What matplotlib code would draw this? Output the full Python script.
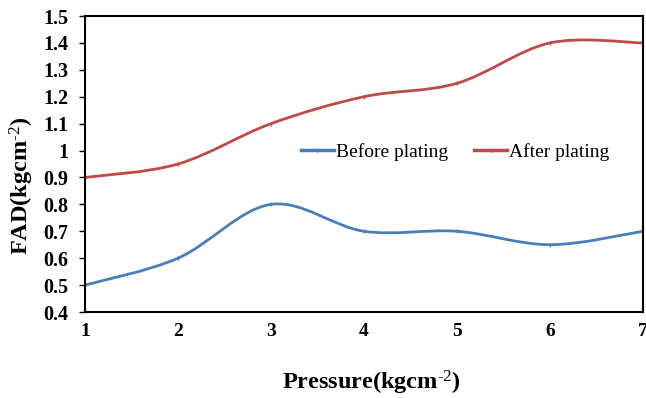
import numpy as np
import matplotlib
matplotlib.use("Agg")
import matplotlib.pyplot as plt
from matplotlib.path import Path
from matplotlib.patches import PathPatch

plt.rcParams['font.family'] = ['Liberation Serif', 'DejaVu Serif']
plt.rcParams['mathtext.fontset'] = 'custom'
plt.rcParams['mathtext.rm'] = 'Liberation Serif'
plt.rcParams['mathtext.bf'] = 'Liberation Serif:bold'
plt.rcParams['mathtext.default'] = 'rm'

pressure = [1, 2, 3, 4, 5, 6, 7]
before_plating = [0.5, 0.6, 0.8, 0.7, 0.7, 0.65, 0.7]
after_plating = [0.9, 0.95, 1.1, 1.2, 1.25, 1.4, 1.4]
series_names = ["Before plating", "After plating"]
colors = ["#4A7EBB", "#BE4B48"]
yticks = [0.4, 0.5, 0.6, 0.7, 0.8, 0.9, 1.0, 1.1, 1.2, 1.3, 1.4, 1.5]
ytick_labels = ["0.4", "0.5", "0.6", "0.7", "0.8", "0.9", "1", "1.1", "1.2", "1.3", "1.4", "1.5"]


def smooth_path(x, y):
    pts = np.column_stack([x, y]).astype(float)
    n = len(pts)
    verts = [pts[0]]
    codes = [Path.MOVETO]
    for i in range(n - 1):
        p0 = pts[i - 1] if i > 0 else pts[i]
        p1 = pts[i]
        p2 = pts[i + 1]
        p3 = pts[i + 2] if i + 2 < n else pts[i + 1]
        c1 = p1 + (p2 - p0) / 6.0
        c2 = p2 - (p3 - p1) / 6.0
        verts += [c1, c2, p2]
        codes += [Path.CURVE4] * 3
    return Path(verts, codes)


W, H = 646, 398
fig = plt.figure(figsize=(6.46, 3.98), dpi=100)
ax = fig.add_axes([85 / W, 1 - 312 / H, 558 / W, 296 / H])

for yv, name, c in zip([before_plating, after_plating], series_names, colors):
    patch = PathPatch(smooth_path(pressure, yv), facecolor='none', edgecolor=c, lw=2.0, capstyle='round')
    ax.add_patch(patch)
    ax.plot(pressure, yv, linestyle='none', marker='|', ms=3, color=c, mew=1)
    ax.plot([], [], color=c, lw=2.5, marker='|', ms=3, label=name)

ax.set_xlim(1, 7)
ax.set_ylim(0.4, 1.5)
ax.set_xticks(pressure)
ax.set_xticklabels([str(p) for p in pressure], fontweight='bold', fontsize=14)
ax.set_yticks(yticks)
ax.set_yticklabels(ytick_labels, fontweight='bold', fontsize=14.5)
ax.tick_params(axis='x', length=0, pad=8)
ax.tick_params(axis='y', length=4, width=1, direction='out', pad=8)
for s in ax.spines.values():
    s.set_color('black')
    s.set_linewidth(1.5)

fig.text(371 / W, 1 - 383 / H, 'Pressure(kgcm$^{\u20102}$)', fontsize=17.5, fontweight='bold',
         ha='center', va='center')
fig.text(22 / W, 1 - 186 / H, 'FAD(kgcm$^{\u20102}$)', fontsize=17.5, fontweight='bold',
         ha='center', va='center', rotation=90)

leg = ax.legend(loc='center', bbox_to_anchor=((455 - 85) / 558, (312 - 152) / 296), ncol=2, frameon=False,
                fontsize=14, handlelength=1.7, handletextpad=0.1, columnspacing=1.35)

fig.savefig('out.png', dpi=100)
